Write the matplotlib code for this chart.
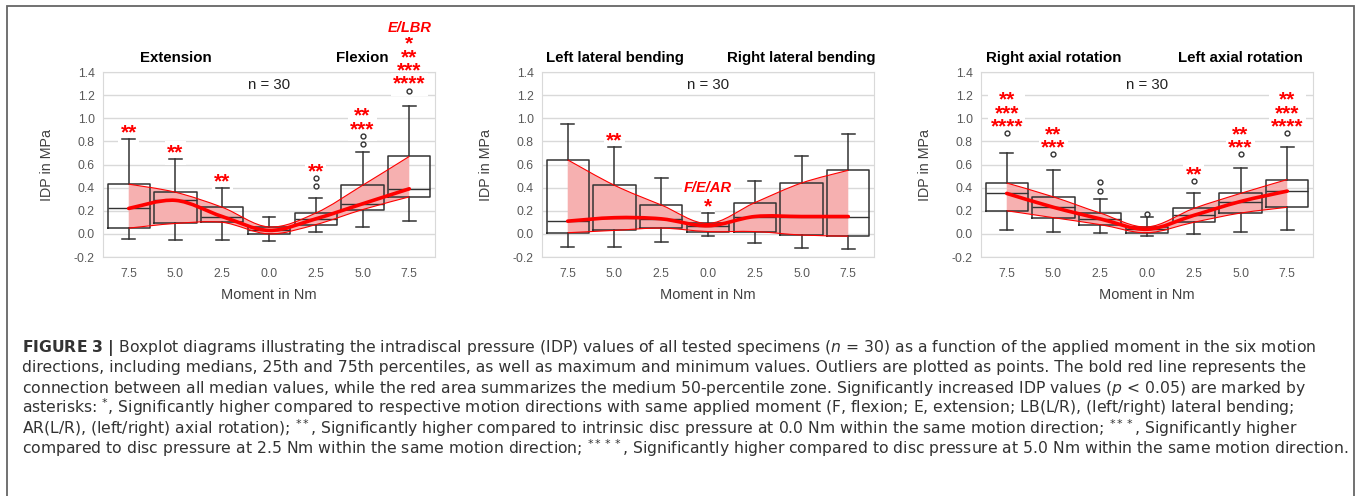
import matplotlib
matplotlib.use("Agg")
import matplotlib.pyplot as plt
from matplotlib.path import Path
from matplotlib.patches import PathPatch, Rectangle
from matplotlib.transforms import blended_transform_factory

plt.rcParams["font.family"] = ["Liberation Sans", "DejaVu Sans"]
plt.rcParams["axes.unicode_minus"] = False

W, H = 1357, 496

moments = ["7.5", "5.0", "2.5", "0.0", "2.5", "5.0", "7.5"]
y_ticks = [-0.2, 0.0, 0.2, 0.4, 0.6, 0.8, 1.0, 1.2, 1.4]

# extension (left half) / flexion (right half)
fe_whishi = [0.82, 0.65, 0.40, 0.15, 0.31, 0.71, 1.11]
fe_q3 = [0.43, 0.36, 0.23, 0.06, 0.18, 0.42, 0.67]
fe_med = [0.22, 0.29, 0.15, 0.03, 0.13, 0.26, 0.39]
fe_q1 = [0.05, 0.09, 0.10, 0.00, 0.08, 0.21, 0.32]
fe_whislo = [-0.04, -0.05, -0.05, -0.06, 0.02, 0.06, 0.11]
fe_fliers = [[], [], [], [], [0.48, 0.41], [0.85, 0.78], [1.24]]
fe_marks = [["**"], ["**"], ["**"], [], ["**"], ["**", "***"],
            ["E/LBR", "*", "**", "***", "****"]]

# left / right lateral bending
lb_whishi = [0.95, 0.75, 0.48, 0.18, 0.46, 0.67, 0.86]
lb_q3 = [0.64, 0.42, 0.25, 0.09, 0.27, 0.44, 0.55]
lb_med = [0.11, 0.14, 0.13, 0.07, 0.15, 0.15, 0.15]
lb_q1 = [0.01, 0.03, 0.05, 0.02, 0.02, -0.01, -0.02]
lb_whislo = [-0.11, -0.11, -0.07, -0.02, -0.08, -0.12, -0.13]
lb_fliers = [[], [], [], [], [], [], []]
lb_marks = [[], ["**"], [], ["F/E/AR", "*"], [], [], []]

# right / left axial rotation
ar_whishi = [0.70, 0.55, 0.30, 0.15, 0.35, 0.57, 0.75]
ar_q3 = [0.44, 0.32, 0.18, 0.06, 0.22, 0.35, 0.47]
ar_med = [0.35, 0.23, 0.13, 0.04, 0.16, 0.28, 0.37]
ar_q1 = [0.20, 0.14, 0.08, 0.01, 0.10, 0.18, 0.23]
ar_whislo = [0.03, 0.02, 0.01, -0.02, 0.00, 0.02, 0.03]
ar_fliers = [[0.87], [0.69], [0.45, 0.37], [0.17], [0.46], [0.69], [0.87]]
ar_marks = [["**", "***", "****"], ["**", "***"], [], [], ["**"], ["**", "***"],
            ["**", "***", "****"]]

panels = [
    (("Extension", "Flexion"), fe_whislo, fe_q1, fe_med, fe_q3, fe_whishi, fe_fliers, fe_marks),
    (("Left lateral bending", "Right lateral bending"), lb_whislo, lb_q1, lb_med, lb_q3, lb_whishi, lb_fliers, lb_marks),
    (("Right axial rotation", "Left axial rotation"), ar_whislo, ar_q1, ar_med, ar_q3, ar_whishi, ar_fliers, ar_marks),
]

caption_lines = [
    r"$\mathbf{FIGURE\ 3\ |}$ Boxplot diagrams illustrating the intradiscal pressure (IDP) values of all tested specimens ($n$ = 30) as a function of the applied moment in the six motion",
    "directions, including medians, 25th and 75th percentiles, as well as maximum and minimum values. Outliers are plotted as points. The bold red line represents the",
    r"connection between all median values, while the red area summarizes the medium 50-percentile zone. Significantly increased IDP values ($p$ < 0.05) are marked by",
    r"asterisks: $^{*}$, Significantly higher compared to respective motion directions with same applied moment (F, flexion; E, extension; LB(L/R), (left/right) lateral bending;",
    r"AR(L/R), (left/right) axial rotation); $^{**}$, Significantly higher compared to intrinsic disc pressure at 0.0 Nm within the same motion direction; $^{***}$, Significantly higher",
    r"compared to disc pressure at 2.5 Nm within the same motion direction; $^{****}$, Significantly higher compared to disc pressure at 5.0 Nm within the same motion direction.",
]

RED = "#ff0000"
BAND = "#f6b0b0"
GRAY = "#595959"
STAR_FS = 15
WORD_FS = 10.5


def smooth_path(xs, ys):
    # Excel-style smoothed line: Catmull-Rom segments as cubic Beziers
    n = len(xs)
    verts, codes = [(xs[0], ys[0])], [Path.MOVETO]
    for i in range(n - 1):
        a, b = max(i - 1, 0), min(i + 2, n - 1)
        c1 = (xs[i] + (xs[i + 1] - xs[a]) / 6, ys[i] + (ys[i + 1] - ys[a]) / 6)
        c2 = (xs[i + 1] - (xs[b] - xs[i]) / 6, ys[i + 1] - (ys[b] - ys[i]) / 6)
        verts += [c1, c2, (xs[i + 1], ys[i + 1])]
        codes += [Path.CURVE4] * 3
    return verts, codes


fig = plt.figure(figsize=(W / 100, H / 100), dpi=100)

ax_left_px = [103, 542, 981]
for (titles, lo, q1, med, q3, hi, fliers, marks), left in zip(panels, ax_left_px):
    ax = fig.add_axes([left / W, 1 - 257 / H, 332 / W, 185 / H])
    pos = list(range(len(moments)))

    ax.set_axisbelow(True)
    ax.grid(axis="y", color="#d9d9d9", lw=1)
    for sp in ax.spines.values():
        sp.set_color("#d9d9d9")

    # red 25-75 % band
    uv, uc = smooth_path(pos, q3)
    lv, lc = smooth_path(pos[::-1], q1[::-1])
    band = Path(uv + [lv[0]] + lv[1:] + [uv[0]],
                uc + [Path.LINETO] + lc[1:] + [Path.CLOSEPOLY])
    ax.add_patch(PathPatch(band, fc=BAND, ec="none", zorder=1.5))
    for v, c in ((uv, uc), (lv, lc)):
        ax.add_patch(PathPatch(Path(v, c), fc="none", ec=RED, lw=0.8, zorder=3))

    stats = [dict(whislo=lo[i], q1=q1[i], med=med[i], q3=q3[i], whishi=hi[i], fliers=fliers[i])
             for i in pos]
    ax.bxp(stats, positions=pos, widths=0.9, capwidths=0.27, manage_ticks=False,
           boxprops=dict(color="#333333", lw=1.1),
           whiskerprops=dict(color="#333333", lw=1.1),
           capprops=dict(color="#333333", lw=1.1),
           medianprops=dict(color="#333333", lw=1.0),
           flierprops=dict(marker="o", ms=3.5, mfc="white", mec="#333333", mew=1.0))

    mv, mc = smooth_path(pos, med)
    ax.add_patch(PathPatch(Path(mv, mc), fc="none", ec=RED, lw=2.6, zorder=4, capstyle="round"))

    # significance marks: one stacked text box of asterisks, word label on top
    for i in pos:
        y = max([hi[i]] + fliers[i]) + 0.09
        stars = [s for s in marks[i] if "/" not in s]
        words = [s for s in marks[i] if "/" in s]
        if stars:
            ax.annotate("\n".join(stars), (i, y), xytext=(0, -0.66 * STAR_FS),
                        textcoords="offset points", ha="center", va="bottom",
                        multialignment="center", linespacing=0.63, color=RED,
                        fontsize=STAR_FS, weight="bold", annotation_clip=False, zorder=1,
                        bbox=dict(boxstyle="square,pad=0.12", fc="white", ec="none"))
            y += 0.11 * (len(stars) - 1)
        for s in words:
            y += 0.135
            ax.annotate(s, (i, y), xytext=(0, -0.36 * WORD_FS), textcoords="offset points",
                        ha="center", va="baseline", color=RED, fontsize=WORD_FS,
                        weight="bold", style="italic", annotation_clip=False, zorder=1,
                        bbox=dict(boxstyle="square,pad=0.15", fc="white", ec="none"))

    ax.text(3, 1.29, "n = 30", ha="center", va="center", fontsize=10.8, color="#222222")
    tr = blended_transform_factory(ax.transData, ax.transAxes)
    ax.text(1, 1.076, titles[0], transform=tr, ha="center", va="center", fontsize=10.8, weight="bold")
    ax.text(5, 1.076, titles[1], transform=tr, ha="center", va="center", fontsize=10.8, weight="bold")

    ax.set_xlim(-0.55, 6.55)
    ax.set_ylim(-0.2, 1.4)
    ax.set_xticks(pos)
    ax.set_xticklabels(moments)
    ax.set_yticks(y_ticks)
    ax.set_yticklabels([f"{t:.1f}" for t in y_ticks])
    ax.tick_params(length=0, labelsize=8.8, labelcolor=GRAY)
    ax.tick_params(axis="x", pad=8)
    ax.tick_params(axis="y", pad=6)
    ax.set_ylabel("IDP in MPa", fontsize=10.3, color="#404040")
    ax.set_xlabel("Moment in Nm", fontsize=10.5, color="#404040")
    ax.yaxis.set_label_coords(-0.148, 0.5)
    ax.xaxis.set_label_coords(0.5, -0.165)

# outer frame
fig.add_artist(Rectangle((7 / W, -0.05), 1347 / W, 1.05 - 6 / H, transform=fig.transFigure,
                         fill=False, ec="#666666", lw=1.3))

cap = [fig.text(22 / W, 1 - (352 + 20.4 * i) / H, line, family="DejaVu Sans", fontsize=11,
                color="#333333", va="baseline")
       for i, line in enumerate(caption_lines)]
fig.canvas.draw()
scale = 1325 / max(t.get_window_extent().width for t in cap)
for t in cap:
    t.set_fontsize(11 * scale)

fig.savefig("out.png", dpi=100)
